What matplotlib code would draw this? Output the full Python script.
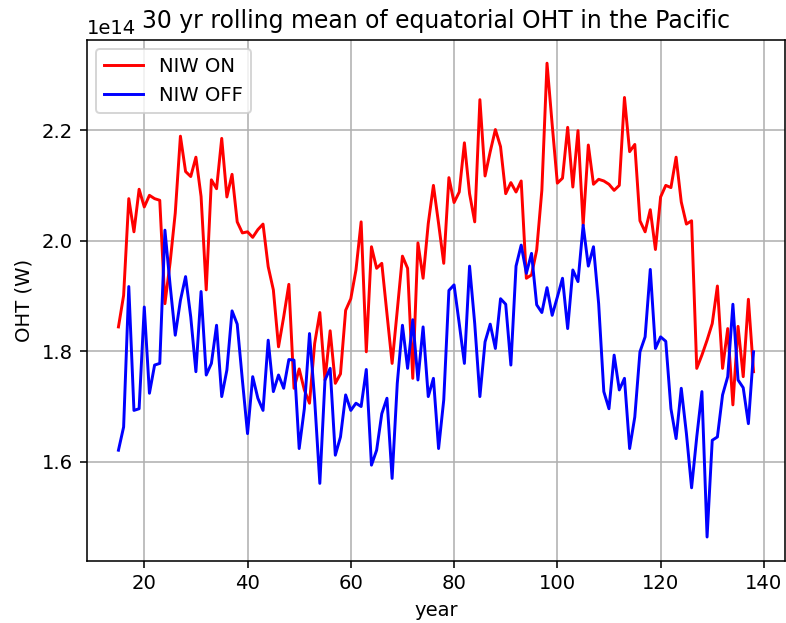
import numpy as np
import matplotlib
matplotlib.use("Agg")
import matplotlib.pyplot as plt

# 30-yr rolling mean of equatorial Pacific OHT, in units of 1e14 W
years = np.arange(15, 139)

oht_niw_on = [
    1.844, 1.901, 2.076, 2.016, 2.093, 2.061, 2.082, 2.076, 2.073, 1.886,
    1.960, 2.050, 2.189, 2.125, 2.116, 2.151, 2.080, 1.911, 2.110, 2.094,
    2.185, 2.079, 2.120, 2.034, 2.014, 2.016, 2.006, 2.020, 2.030, 1.953,
    1.911, 1.808, 1.862, 1.921, 1.733, 1.768, 1.730, 1.706, 1.814, 1.870,
    1.748, 1.837, 1.742, 1.759, 1.874, 1.895, 1.947, 2.034, 1.799, 1.989,
    1.950, 1.959, 1.868, 1.778, 1.874, 1.972, 1.950, 1.751, 1.996, 1.932,
    2.031, 2.100, 2.031, 1.959, 2.114, 2.069, 2.088, 2.177, 2.085, 2.034,
    2.255, 2.117, 2.161, 2.201, 2.170, 2.085, 2.105, 2.088, 2.108, 1.932,
    1.938, 1.983, 2.091, 2.321, 2.210, 2.104, 2.113, 2.205, 2.097, 2.199,
    2.028, 2.173, 2.102, 2.111, 2.108, 2.102, 2.091, 2.100, 2.259, 2.161,
    2.174, 2.036, 2.016, 2.056, 1.984, 2.079, 2.100, 2.096, 2.151, 2.070,
    2.030, 2.036, 1.769, 1.793, 1.820, 1.850, 1.918, 1.769, 1.841, 1.703,
    1.845, 1.754, 1.894, 1.763,
]

oht_niw_off = [
    1.621, 1.663, 1.917, 1.693, 1.696, 1.880, 1.724, 1.775, 1.778, 2.019,
    1.920, 1.829, 1.892, 1.935, 1.862, 1.763, 1.908, 1.757, 1.778, 1.847,
    1.718, 1.766, 1.873, 1.849, 1.748, 1.651, 1.754, 1.715, 1.693, 1.820,
    1.727, 1.757, 1.733, 1.785, 1.784, 1.624, 1.696, 1.832, 1.712, 1.561,
    1.748, 1.769, 1.612, 1.645, 1.721, 1.693, 1.706, 1.700, 1.767, 1.594,
    1.621, 1.687, 1.715, 1.570, 1.742, 1.847, 1.769, 1.857, 1.748, 1.844,
    1.718, 1.751, 1.624, 1.712, 1.910, 1.920, 1.850, 1.778, 1.954, 1.850,
    1.718, 1.817, 1.849, 1.805, 1.895, 1.885, 1.775, 1.954, 1.992, 1.941,
    1.977, 1.884, 1.870, 1.915, 1.865, 1.898, 1.932, 1.841, 1.947, 1.926,
    2.028, 1.954, 1.989, 1.886, 1.727, 1.696, 1.793, 1.730, 1.751, 1.624,
    1.681, 1.799, 1.826, 1.948, 1.805, 1.826, 1.818, 1.696, 1.642, 1.733,
    1.651, 1.553, 1.645, 1.727, 1.464, 1.639, 1.645, 1.721, 1.754, 1.885,
    1.748, 1.734, 1.669, 1.799,
]

scale = 1e14

dpi = 141
fig = plt.figure(figsize=(786 / dpi, 623 / dpi), dpi=dpi)
ax = fig.add_axes([86.7 / 786, (623 - 560.7) / 623, (785.3 - 86.7) / 786, (560.7 - 39.5) / 623])

ax.plot(years, np.array(oht_niw_on) * scale, color="red", label="NIW ON")
ax.plot(years, np.array(oht_niw_off) * scale, color="blue", label="NIW OFF")

ax.set_title("30 yr rolling mean of equatorial OHT in the Pacific")
ax.set_xlabel("year")
ax.set_ylabel("OHT (W)")
ax.grid(True)
ax.legend(loc="upper left")

fig.savefig("out.png", dpi=dpi)
